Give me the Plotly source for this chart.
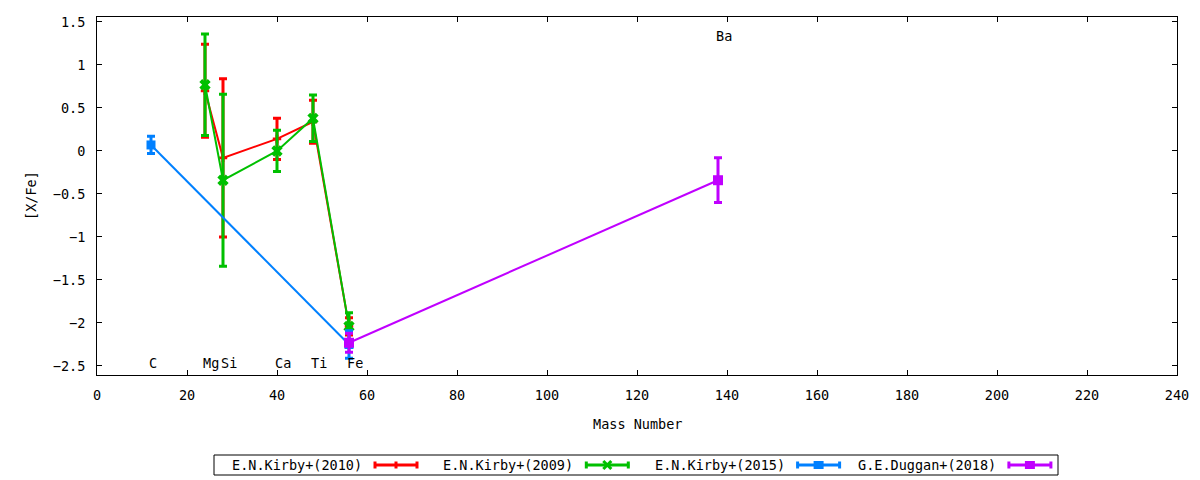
import plotly.graph_objects as go

# ---- data ----
kirby2010_x = [24, 28, 40, 48, 56]
kirby2010_y = [0.70, -0.08, 0.14, 0.34, -2.04]
kirby2010_err = [0.54, 0.92, 0.24, 0.25, 0.10]

kirby2009_x = [24, 28, 40, 48, 56]
kirby2009_y = [0.77, -0.34, 0.00, 0.38, -2.04]
kirby2009_err = [0.59, 1.00, 0.24, 0.27, 0.16]

kirby2015_x = [12, 56]
kirby2015_y = [0.07, -2.25]
kirby2015_err = [0.10, 0.16]

duggan2018_x = [56, 138]
duggan2018_y = [-2.23, -0.34]
duggan2018_err = [0.11, 0.26]

element_labels = ["C", "Mg", "Si", "Ca", "Ti", "Fe", "Ba"]
element_x = [12, 24, 28, 40, 48, 56, 138]
element_y = [-2.5, -2.5, -2.5, -2.5, -2.5, -2.5, 1.3]

series_names = ["E.N.Kirby+(2010)", "E.N.Kirby+(2009)", "E.N.Kirby+(2015)", "G.E.Duggan+(2018)"]
series_colors = ["#ff0000", "#00c000", "#0080ff", "#c000ff"]

FONT = "DejaVu Sans Mono"
FS = 13.5
W, H = 1200, 480
L, R, T, B = 97, 1177, 17, 375


def px(xp):
    return (xp - L) / (R - L)


def py(yp):
    return (B - yp) / (B - T)


fig = go.Figure()

series = [
    (kirby2010_x, kirby2010_y, kirby2010_err, "cross", 7),
    (kirby2009_x, kirby2009_y, kirby2009_err, "x", 10),
    (kirby2015_x, kirby2015_y, kirby2015_err, "square", 9),
    (duggan2018_x, duggan2018_y, duggan2018_err, "square", 10),
]
for (xs, ys, es, sym, size), name, col in zip(series, series_names, series_colors):
    fig.add_trace(go.Scatter(
        x=xs, y=ys, name=name, mode="lines+markers",
        line=dict(color=col, width=2),
        marker=dict(symbol=sym, size=size, color=col, line=dict(width=0)),
        error_y=dict(type="data", array=es, visible=True, color=col, thickness=3, width=4),
        showlegend=False,
    ))

annotations = []
for lab, lx, ly in zip(element_labels, element_x, element_y):
    annotations.append(dict(
        x=lx, y=ly, xref="x", yref="y", text=lab, showarrow=False,
        xanchor="left", yanchor="middle", xshift=-4, yshift=3,
        font=dict(family=FONT, size=FS, color="black"),
    ))

# axis titles
annotations.append(dict(
    x=0.5, y=py(424), xref="paper", yref="paper", text="Mass Number", showarrow=False,
    xanchor="center", yanchor="middle", font=dict(family=FONT, size=FS, color="black"),
))
annotations.append(dict(
    x=px(31), y=0.5, xref="paper", yref="paper", text="[X/Fe]", showarrow=False,
    textangle=-90, xanchor="center", yanchor="middle",
    font=dict(family=FONT, size=FS, color="black"),
))

# custom gnuplot-style legend (text left, sample right)
shapes = [dict(type="rect", xref="paper", yref="paper",
               x0=px(214), x1=px(1058), y0=py(475), y1=py(455),
               line=dict(color="black", width=1), fillcolor="rgba(0,0,0,0)")]
ly_px = 465
for i, (name, col) in enumerate(zip(series_names, series_colors)):
    text_right = 364 + 211.3 * i
    s0 = text_right + 10
    s1 = s0 + 44
    sm = (s0 + s1) / 2
    annotations.append(dict(
        x=px(text_right), y=py(ly_px), xref="paper", yref="paper", text=name,
        showarrow=False, xanchor="right", yanchor="middle",
        font=dict(family=FONT, size=FS, color="black"),
    ))
    shapes.append(dict(type="line", xref="paper", yref="paper",
                       x0=px(s0), x1=px(s1), y0=py(ly_px), y1=py(ly_px),
                       line=dict(color=col, width=3)))
    for cx in (s0 + 1, s1 - 1):
        shapes.append(dict(type="line", xref="paper", yref="paper",
                           x0=px(cx), x1=px(cx), y0=py(ly_px - 3.5), y1=py(ly_px + 3.5),
                           line=dict(color=col, width=3)))
    sym = series[i][3]
    if sym == "cross":
        shapes.append(dict(type="line", xref="paper", yref="paper",
                           x0=px(sm), x1=px(sm), y0=py(ly_px - 3.5), y1=py(ly_px + 3.5),
                           line=dict(color=col, width=3)))
    elif sym == "x":
        for a, b in ((-4, 4), (4, -4)):
            shapes.append(dict(type="line", xref="paper", yref="paper",
                               x0=px(sm - 4), x1=px(sm + 4), y0=py(ly_px + a), y1=py(ly_px + b),
                               line=dict(color=col, width=3)))
    else:
        shapes.append(dict(type="rect", xref="paper", yref="paper",
                           x0=px(sm - 5), x1=px(sm + 5), y0=py(ly_px + 4), y1=py(ly_px - 4),
                           line=dict(width=0), fillcolor=col))

axis_common = dict(
    showgrid=False, zeroline=False, showline=True, linecolor="black", linewidth=1,
    mirror="allticks", ticks="inside", ticklen=5, tickwidth=1, tickcolor="black",
    tickfont=dict(family=FONT, size=FS, color="black"),
)

fig.update_layout(
    width=W, height=H,
    margin=dict(l=L, r=W - R, t=T, b=H - B, autoexpand=False),
    paper_bgcolor="white", plot_bgcolor="white",
    xaxis=dict(range=[0, 240], tickmode="linear", tick0=0, dtick=20,
               ticklabelstandoff=8, **axis_common),
    yaxis=dict(range=[-2.605, 1.558], tickmode="linear", tick0=-2.5, dtick=0.5,
               ticklabelstandoff=8, **axis_common),
    annotations=annotations,
    shapes=shapes,
    showlegend=False,
    font=dict(family=FONT, size=FS, color="black"),
)

fig.write_html(
    "out.html",
    config={"displayModeBar": False},
    post_script="document.body.style.margin='0px';document.body.style.overflow='hidden';",
)
